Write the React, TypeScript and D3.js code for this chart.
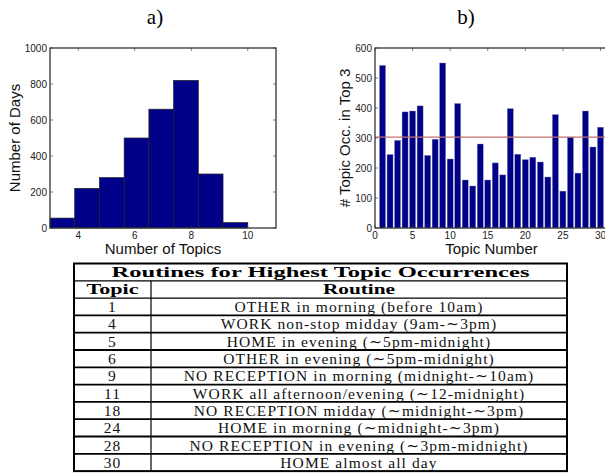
import React from 'react';
import * as d3 from 'd3';

// histogram a)
const binEdges = [3, 3.875, 4.75, 5.625, 6.5, 7.375, 8.25, 9.125, 10];
const dayCounts = [55, 220, 280, 500, 660, 820, 300, 30];
const histXTicks = [4, 6, 8, 10];
const histYTicks = [0, 200, 400, 600, 800, 1000];

// bar chart b)
const topicNumbers = d3.range(1, 31);
const topicOccurrences = [542, 245, 292, 387, 390, 407, 242, 296, 550, 230, 415, 160, 140, 280, 160,
  217, 177, 398, 246, 228, 236, 220, 170, 378, 123, 303, 183, 390, 270, 336];
const thresholdValue = 303;
const barXTicks = [0, 5, 10, 15, 20, 25, 30];
const barYTicks = [0, 100, 200, 300, 400, 500, 600];

// table
const tableTitle = 'Routines for Highest Topic Occurrences';
const tableHeaders = ['Topic', 'Routine'];
const tableTopics = ['1', '4', '5', '6', '9', '11', '18', '24', '28', '30'];
const tableRoutines = [
  'OTHER in morning (before 10am)',
  'WORK non-stop midday (9am-∼3pm)',
  'HOME in evening (∼5pm-midnight)',
  'OTHER in evening (∼5pm-midnight)',
  'NO RECEPTION in morning (midnight-∼10am)',
  'WORK all afternoon/evening (∼12-midnight)',
  'NO RECEPTION midday (∼midnight-∼3pm)',
  'HOME in morning (∼midnight-∼3pm)',
  'NO RECEPTION in evening (∼3pm-midnight)',
  'HOME almost all day',
];

const sans = 'Liberation Sans, Arial, sans-serif';
const serif = 'Liberation Serif, DejaVu Serif, serif';
const barColor = '#000088';
const frameColor = '#333';

function Frame({ x0, x1, y0, y1, xs, ys, xTicks, yTicks, yLabel, xLabel, yLabelX }) {
  const tl = 3;
  return (
    <g>
      {xTicks.map(t => (
        <g key={'x' + t}>
          <line x1={xs(t)} x2={xs(t)} y1={y1} y2={y1 - tl} stroke={frameColor} strokeWidth={0.6} />
          <line x1={xs(t)} x2={xs(t)} y1={y0} y2={y0 + tl} stroke={frameColor} strokeWidth={0.6} />
          <text x={xs(t)} y={y1 + 11} textAnchor="middle" fontFamily={sans} fontSize={10} fill="#222">{t}</text>
        </g>
      ))}
      {yTicks.map(t => (
        <g key={'y' + t}>
          <line x1={x0} x2={x0 + tl} y1={ys(t)} y2={ys(t)} stroke={frameColor} strokeWidth={0.6} />
          <line x1={x1} x2={x1 - tl} y1={ys(t)} y2={ys(t)} stroke={frameColor} strokeWidth={0.6} />
          <text x={x0 - 3} y={ys(t)} dy="0.35em" textAnchor="end" fontFamily={sans} fontSize={10} fill="#222">{t}</text>
        </g>
      ))}
      <rect x={x0} y={y0} width={x1 - x0} height={y1 - y0} fill="none" stroke={frameColor} strokeWidth={1.3} />
      <text x={(x0 + x1) / 2} y={y1 + 26} textAnchor="middle" fontFamily={sans} fontSize={15} fill="#111">{xLabel}</text>
      <text transform={`translate(${yLabelX},${(y0 + y1) / 2}) rotate(-90)`} textAnchor="middle" dy="0.35em"
        fontFamily={sans} fontSize={15} fill="#111">{yLabel}</text>
    </g>
  );
}

function Histogram() {
  const x0 = 50, x1 = 276, y0 = 48, y1 = 228;
  const xs = d3.scaleLinear().domain([3, 11]).range([x0, x1]);
  const ys = d3.scaleLinear().domain([0, 1000]).range([y1, y0]);
  return (
    <g>
      {dayCounts.map((c, i) => (
        <rect key={i} x={xs(binEdges[i])} y={ys(c)} width={xs(binEdges[i + 1]) - xs(binEdges[i])} height={ys(0) - ys(c)}
          fill={barColor} stroke="#222" strokeWidth={0.7} />
      ))}
      <Frame x0={x0} x1={x1} y0={y0} y1={y1} xs={xs} ys={ys} xTicks={histXTicks} yTicks={histYTicks}
        xLabel="Number of Topics" yLabel="Number of Days" yLabelX={15} />
    </g>
  );
}

function BarChart() {
  const x0 = 375, x1 = 608, y0 = 48, y1 = 228;
  const xs = d3.scaleLinear().domain([0, 31]).range([x0, x1]);
  const ys = d3.scaleLinear().domain([0, 600]).range([y1, y0]);
  return (
    <g>
      {topicOccurrences.map((v, i) => (
        <rect key={i} x={xs(topicNumbers[i] - 0.4)} y={ys(v)} width={xs(0.8) - xs(0)} height={ys(0) - ys(v)}
          fill={barColor} stroke="#8a8ab8" strokeWidth={0.4} />
      ))}
      <line x1={x0} x2={x1} y1={ys(thresholdValue)} y2={ys(thresholdValue)} stroke="#c07070" strokeWidth={1.2} />
      <Frame x0={x0} x1={x1} y0={y0} y1={y1} xs={xs} ys={ys} xTicks={barXTicks} yTicks={barYTicks}
        xLabel="Topic Number" yLabel="# Topic Occ. in Top 3" yLabelX={345} />
    </g>
  );
}

function Table() {
  const left = 74, mid = 151, right = 567, top = 263.5;
  const nRows = tableTopics.length + 2;
  const rowH = 17.3;
  const ry = d3.scaleLinear().domain([0, nRows]).range([top, top + nRows * rowH]);
  const boldText = { fontFamily: serif, fontWeight: 'bold', fontSize: 14, lengthAdjust: 'spacingAndGlyphs' };
  const bodyText = { fontFamily: serif, fontSize: 15.5, letterSpacing: 1.1, fill: '#111' };
  return (
    <g>
      <rect x={left} y={ry(0)} width={right - left} height={ry(nRows) - ry(0)} fill="none" stroke="#000" strokeWidth={2} />
      {d3.range(1, nRows).map(r => (
        <line key={r} x1={left} x2={right} y1={ry(r)} y2={ry(r)} stroke="#000" strokeWidth={r >= 3 ? 1.8 : 1.2} />
      ))}
      <line x1={mid} x2={mid} y1={ry(1)} y2={ry(nRows)} stroke="#000" strokeWidth={1.2} />
      <text x={(left + right) / 2} y={ry(0.5)} dy="0.35em" textAnchor="middle" textLength={418} {...boldText}>{tableTitle}</text>
      <text x={(left + mid) / 2} y={ry(1.5)} dy="0.35em" textAnchor="middle" textLength={52} {...boldText}>{tableHeaders[0]}</text>
      <text x={(mid + right) / 2} y={ry(1.5)} dy="0.35em" textAnchor="middle" textLength={72} {...boldText}>{tableHeaders[1]}</text>
      {tableTopics.map((t, i) => (
        <g key={t}>
          <text x={(left + mid) / 2} y={ry(i + 2.5)} dy="0.35em" textAnchor="middle" {...bodyText}>{t}</text>
          <text x={(mid + right) / 2} y={ry(i + 2.5)} dy="0.35em" textAnchor="middle" {...bodyText}>{tableRoutines[i]}</text>
        </g>
      ))}
    </g>
  );
}

export default function App() {
  return (
    <div style={{ position: 'fixed', left: 0, top: 0 }}>
      <svg width={605} height={474} style={{ display: 'block', background: '#fff' }}>
        <text x={155} y={24} textAnchor="middle" fontFamily={serif} fontSize={21}>a)</text>
        <text x={466} y={24} textAnchor="middle" fontFamily={serif} fontSize={21}>b)</text>
        <Histogram />
        <BarChart />
        <Table />
      </svg>
    </div>
  );
}
